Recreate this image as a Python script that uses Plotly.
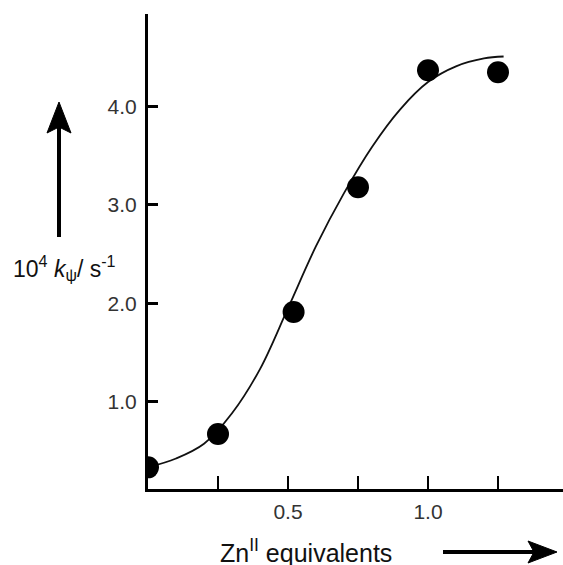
import plotly.graph_objects as go

# Measured rate constants vs. Zn(II) equivalents
zn_equiv = [0.0, 0.25, 0.52, 0.75, 1.0, 1.25]
k_obs = [0.33, 0.67, 1.91, 3.18, 4.37, 4.35]

# Fitted titration curve (sampled)
fit_x = [0.0, 0.1, 0.2, 0.3, 0.4, 0.5, 0.6, 0.7, 0.8, 0.9, 1.0, 1.1, 1.2, 1.27]
fit_y = [0.33, 0.42, 0.57, 0.88, 1.33, 1.95, 2.58, 3.12, 3.59, 3.97, 4.25, 4.41, 4.49, 4.51]

x_ticks = [0.25, 0.5, 0.75, 1.0, 1.25]
x_ticktext = ["", "0.5", "", "1.0", ""]
y_ticks = [1.0, 2.0, 3.0, 4.0]
y_ticktext = ["1.0", "2.0", "3.0", "4.0"]

W, H = 563, 565
ML, MR, MT, MB = 148, 0, 14, 76
PW, PH = W - ML - MR, H - MT - MB

FONT = "Liberation Sans, Arial, sans-serif"
INK = "#111"


def px(x):
    return (x - ML) / PW


def py(y):
    return (H - MB - y) / PH


fig = go.Figure()
fig.add_trace(go.Scatter(
    x=fit_x, y=fit_y, mode="lines",
    line=dict(color=INK, width=1.8, shape="spline", smoothing=1.0),
    hoverinfo="skip", showlegend=False,
))
fig.add_trace(go.Scatter(
    x=zn_equiv, y=k_obs, mode="markers",
    marker=dict(color="black", size=22, line=dict(width=0)),
    showlegend=False,
))

# Decorative arrows next to the axis titles
shapes = [
    dict(type="line", xref="paper", yref="paper",
         x0=px(59), x1=px(59), y0=py(237), y1=py(126),
         line=dict(color="black", width=4)),
    dict(type="path", xref="paper", yref="paper",
         path=f"M {px(59)},{py(102)} L {px(47)},{py(133)} L {px(59)},{py(127)} L {px(71)},{py(133)} Z",
         fillcolor="black", line=dict(color="black", width=1)),
    dict(type="line", xref="paper", yref="paper",
         x0=px(443), x1=px(534), y0=py(552), y1=py(552),
         line=dict(color="black", width=4)),
    dict(type="path", xref="paper", yref="paper",
         path=f"M {px(557)},{py(552)} L {px(528)},{py(541)} L {px(534)},{py(552)} L {px(528)},{py(563)} Z",
         fillcolor="black", line=dict(color="black", width=1)),
]

annotations = [
    dict(xref="paper", yref="paper", x=px(64), y=py(268),
         text="10<sup>4</sup> <i>k</i><sub>ψ</sub>/ s<sup>-1</sup>",
         showarrow=False, xanchor="center", yanchor="middle",
         font=dict(family=FONT, size=23, color=INK)),
    dict(xref="paper", yref="paper", x=px(306), y=py(551),
         text="Zn<sup>II</sup> equivalents",
         showarrow=False, xanchor="center", yanchor="middle",
         font=dict(family=FONT, size=25, color=INK)),
]

fig.update_layout(
    width=W, height=H,
    margin=dict(l=ML, r=MR, t=MT, b=MB, pad=0),
    paper_bgcolor="white", plot_bgcolor="white",
    shapes=shapes, annotations=annotations,
    font=dict(family=FONT, size=20, color=INK),
    xaxis=dict(
        range=[0, PW / 280.0], showgrid=False, zeroline=False,
        showline=True, linecolor="black", linewidth=3,
        ticks="inside", ticklen=13, tickwidth=2, tickcolor="black",
        tickvals=x_ticks, ticktext=x_ticktext, ticklabelstandoff=2,
        tickfont=dict(family=FONT, size=21, color="#333"),
    ),
    yaxis=dict(
        range=[0.11, 0.11 + PH / 98.3], showgrid=False, zeroline=False,
        showline=True, linecolor="black", linewidth=3,
        ticks="inside", ticklen=10, tickwidth=3, tickcolor="black",
        tickvals=y_ticks, ticktext=y_ticktext, ticklabelstandoff=4,
        tickfont=dict(family=FONT, size=21, color="#333"),
    ),
)

fig.write_html("out.html")
